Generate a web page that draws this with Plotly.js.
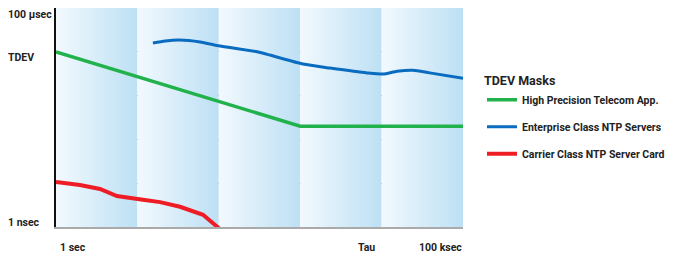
<!DOCTYPE html>
<html>
<head>
<meta charset="utf-8">
<script src="https://cdn.plot.ly/plotly-3.0.1.min.js"></script>
<style>html,body{margin:0;padding:0;background:#fff;}#chart{width:679px;height:259px;}</style>
</head>
<body>
<div id="chart"></div>
<script>
// Decade bands (tau, seconds)
const decades = [1, 10, 100, 1000, 10000, 100000];
// High Precision Telecom App.
const greenTau = [1, 1000, 100000];
const greenTdev = [1.0e-5, 2.0e-7, 2.0e-7];
// Enterprise Class NTP Servers
const blueTau = [15.5, 22, 33, 59, 103, 295, 1080, 2320, 6630, 10400, 15500, 24400, 39000, 100000];
const blueTdev = [1.59e-5, 1.77e-5, 1.86e-5, 1.68e-5, 1.36e-5, 1.0e-5, 5.25e-6, 4.26e-6, 3.3e-6, 3.1e-6, 3.6e-6, 3.8e-6, 3.3e-6, 2.5e-6];
// Carrier Class NTP Server Card
const redTau = [1, 1.97, 3.47, 5.6, 11.7, 19, 33.4, 64, 103];
const redTdev = [1.07e-8, 9.1e-9, 7.4e-9, 5.1e-9, 4.2e-9, 3.7e-9, 2.9e-9, 1.9e-9, 0.9e-9];
const yLabels = ["100 µsec", "TDEV", "1 nsec"];
const xLabels = ["1 sec", "Tau", "100 ksec"];
const seriesNames = ["High Precision Telecom App.", "Enterprise Class NTP Servers", "Carrier Class NTP Server Card"];
const legendTitle = "TDEV Masks";

const yMin = 1e-9, yMax = 1e-4;
const traces = [];
for (let i = 0; i < decades.length - 1; i++) {
  const a = decades[i], b = decades[i + 1];
  traces.push({
    x: [a, b, b, a, a], y: [yMin, yMin, yMax, yMax, yMin],
    mode: 'none', fill: 'toself', showlegend: false, hoverinfo: 'skip',
    fillgradient: {type: 'horizontal', colorscale: [[0, '#f2f9fe'], [1, '#bde0f4']]}
  });
}
const fam = 'Roboto, sans-serif';
const font = {family: fam, size: 10.5, color: '#222', weight: 'bold'};
traces.push({x: greenTau, y: greenTdev, mode: 'lines', name: seriesNames[0], legendgroup: 'g', line: {color: '#22b24c', width: 3.5}});
traces.push({x: blueTau, y: blueTdev, mode: 'lines', name: seriesNames[1], legendgroup: 'b', line: {color: '#0a6cc0', width: 3, shape: 'spline', smoothing: 0.6}});
traces.push({x: redTau, y: redTdev, mode: 'lines', name: seriesNames[2], legendgroup: 'r', line: {color: '#ee1c25', width: 4}});

const ann = [];
const L = 56, R = 463, T = 8, B = 227;
const px = x => (x - L) / (R - L);
const py = y => (B - y) / (B - T);
ann.push({xref: 'paper', yref: 'paper', x: px(6), y: py(14), xanchor: 'left', yanchor: 'middle', text: yLabels[0], showarrow: false, font: font});
ann.push({xref: 'paper', yref: 'paper', x: px(6), y: py(57), xanchor: 'left', yanchor: 'middle', text: yLabels[1], showarrow: false, font: font});
ann.push({xref: 'paper', yref: 'paper', x: px(6), y: py(222), xanchor: 'left', yanchor: 'middle', text: yLabels[2], showarrow: false, font: font});
ann.push({xref: 'paper', yref: 'paper', x: px(58), y: py(247), xanchor: 'left', yanchor: 'middle', text: xLabels[0], showarrow: false, font: font});
ann.push({xref: 'paper', yref: 'paper', x: px(366.5), y: py(247), xanchor: 'center', yanchor: 'middle', text: xLabels[1], showarrow: false, font: font});
ann.push({xref: 'paper', yref: 'paper', x: px(464), y: py(247), xanchor: 'right', yanchor: 'middle', text: xLabels[2], showarrow: false, font: font});

const layout = {
  width: 679, height: 259,
  margin: {l: L, r: 679 - R, t: T, b: 259 - B, pad: 0, autoexpand: false},
  paper_bgcolor: '#fff', plot_bgcolor: '#fff',
  font: font,
  showlegend: true,
  legend: {
    x: px(482), y: py(69), xanchor: 'left', yanchor: 'top',
    title: {text: legendTitle, font: {family: fam, size: 12.5, color: '#222', weight: 'bold'}},
    font: {family: fam, size: 10.5, color: '#222', weight: 'bold'},
    tracegroupgap: 8, itemwidth: 30, bgcolor: 'rgba(0,0,0,0)'
  },
  xaxis: {type: 'log', range: [0, 5], showgrid: false, zeroline: false, showticklabels: false, ticks: '',
    showline: true, linecolor: '#aaaaaa', linewidth: 2, fixedrange: true},
  yaxis: {type: 'log', range: [-9, -4], showgrid: true, gridcolor: '#666666', gridwidth: 1,
    tickvals: [1e-8, 1e-7, 1e-6, 1e-5], showticklabels: false, ticks: '', zeroline: false,
    showline: true, linecolor: '#111111', linewidth: 2, fixedrange: true, layer: 'above traces'},
  annotations: ann
};
Plotly.newPlot('chart', traces, layout, {displayModeBar: false, staticPlot: true});
</script>
</body>
</html>
